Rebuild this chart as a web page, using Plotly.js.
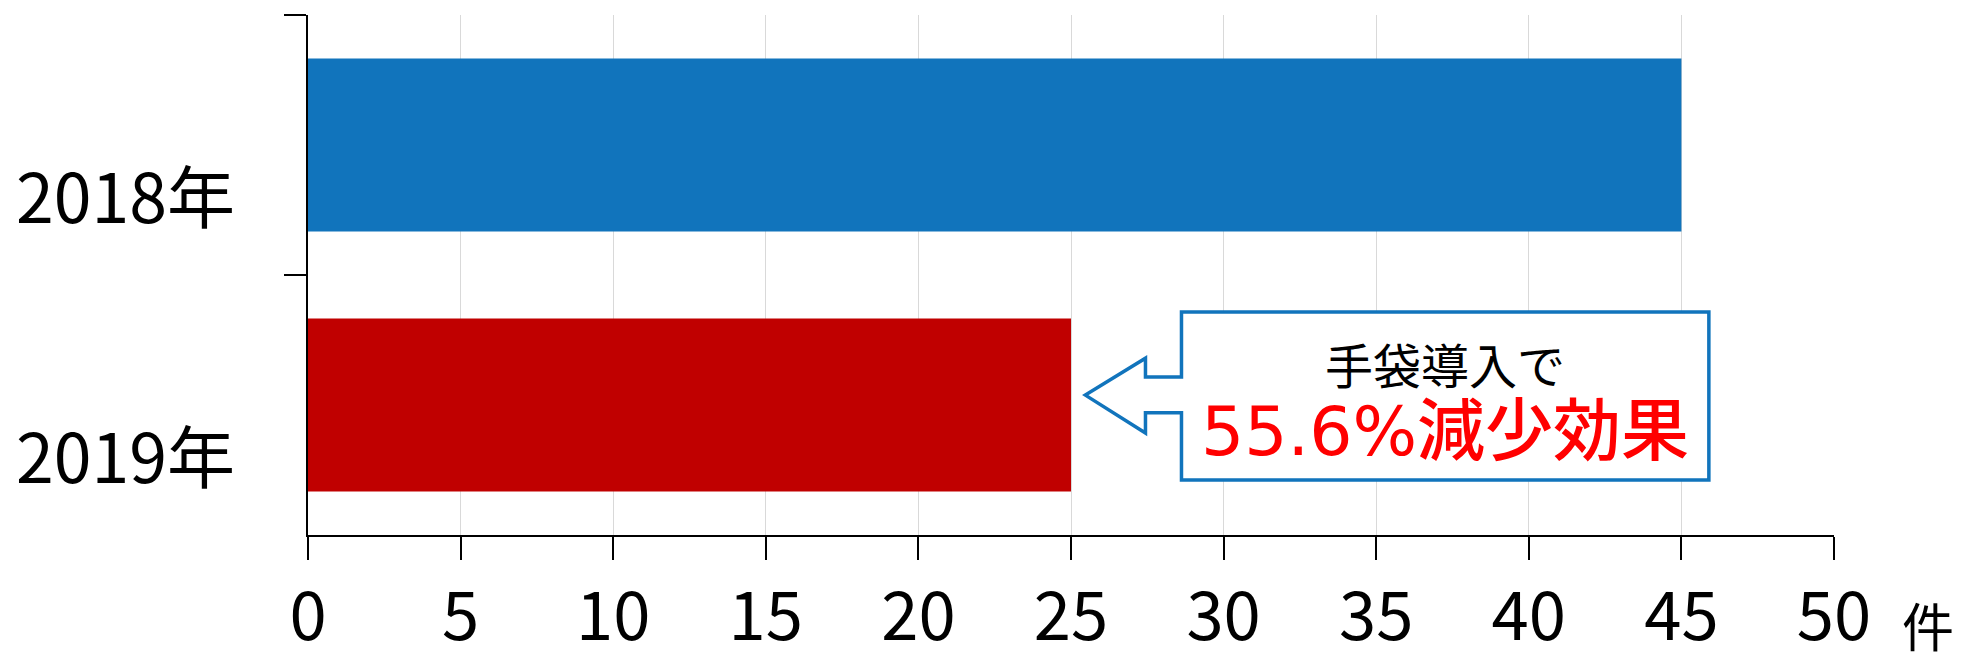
<!DOCTYPE html>
<html>
<head>
<meta charset="utf-8">
<script src="https://cdn.plot.ly/plotly-3.0.1.min.js"></script>
<style>html,body{margin:0;padding:0;background:#fff;}#chart{width:1961px;height:654px;}</style>
</head>
<body>
<div id="chart"></div>
<script>
const categories = ["2018年", "2019年"];
const values = [45, 25];
const barColors = ["#1174BC", "#C00000"];
const xTicks = [0, 5, 10, 15, 20, 25, 30, 35, 40, 45, 50];
const unitLabel = "件";
const calloutLine1 = "手袋導入で";
const calloutLine2 = "55.6%減少効果";

const FONT = "'Noto Sans CJK JP', 'DejaVu Sans', sans-serif";
const FONT2 = "'DejaVu Sans', 'Noto Sans CJK JP', sans-serif";
const BLUE = "#1174BC";

const trace = {
  type: "bar",
  orientation: "h",
  y: categories,
  x: values,
  marker: {color: barColors},
  hoverinfo: "none"
};

// Callout arrow shape in data (x) and paper (y) units
const tipX = 25.47, headX = 27.44, boxL = 28.62, boxR = 45.9;
const boxT = 0.429, boxB = 0.106, tipY = 0.269, neckT = 0.304, neckB = 0.235, headT = 0.340, headB = 0.196;
const path = `M ${boxL},${boxT} L ${boxR},${boxT} L ${boxR},${boxB} L ${boxL},${boxB} L ${boxL},${neckB} L ${headX},${neckB} L ${headX},${headB} L ${tipX},${tipY} L ${headX},${headT} L ${headX},${neckT} L ${boxL},${neckT} Z`;

const layout = {
  width: 1961, height: 654,
  margin: {l: 308, r: 127, t: 15, b: 119},
  paper_bgcolor: "#fff", plot_bgcolor: "#fff",
  font: {family: FONT, color: "#000"},
  showlegend: false,
  bargap: 0.335,
  xaxis: {
    range: [0, 50],
    tickvals: xTicks,
    ticktext: xTicks.map(String),
    showgrid: true, gridcolor: "#d9d9d9", gridwidth: 1,
    zeroline: false,
    showline: true, linecolor: "#000", linewidth: 2,
    ticks: "outside", ticklen: 23, tickwidth: 2, tickcolor: "#000",
    tickfont: {family: FONT, size: 67, color: "#000"},
    fixedrange: true
  },
  yaxis: {
    type: "category",
    autorange: "reversed",
    showticklabels: false,
    showgrid: false, zeroline: false,
    showline: true, linecolor: "#000", linewidth: 2,
    ticks: "outside", ticklen: 22, tickwidth: 2, tickcolor: "#000",
    tickson: "boundaries",
    fixedrange: true
  },
  shapes: [{
    type: "path", xref: "x", yref: "paper", path: path,
    line: {color: BLUE, width: 3.5}, fillcolor: "#fff"
  }],
  annotations: [
    ...categories.map(c => ({
      xref: "paper", yref: "y", x: 0, y: c, xanchor: "right", yanchor: "middle",
      xshift: -71, yshift: -48, showarrow: false, text: c,
      font: {family: FONT, size: 68, color: "#000"}
    })),
    {
      xref: "paper", yref: "paper", x: 1, y: -0.173, xanchor: "left", yanchor: "middle",
      xshift: 66, showarrow: false, text: unitLabel,
      font: {family: FONT, size: 52, color: "#000"}
    },
    {
      xref: "x", yref: "paper", x: (boxL + boxR) / 2, y: 0.33, xanchor: "center", yanchor: "middle",
      showarrow: false, text: calloutLine1,
      font: {family: FONT, size: 48, color: "#000"}
    },
    {
      xref: "x", yref: "paper", x: (boxL + boxR) / 2, y: 0.2, xanchor: "center", yanchor: "middle",
      showarrow: false, text: calloutLine2,
      font: {family: FONT2, size: 68, color: "#FF0000", weight: 500}
    }
  ]
};

Plotly.newPlot("chart", [trace], layout, {displayModeBar: false, staticPlot: true});
</script>
</body>
</html>
